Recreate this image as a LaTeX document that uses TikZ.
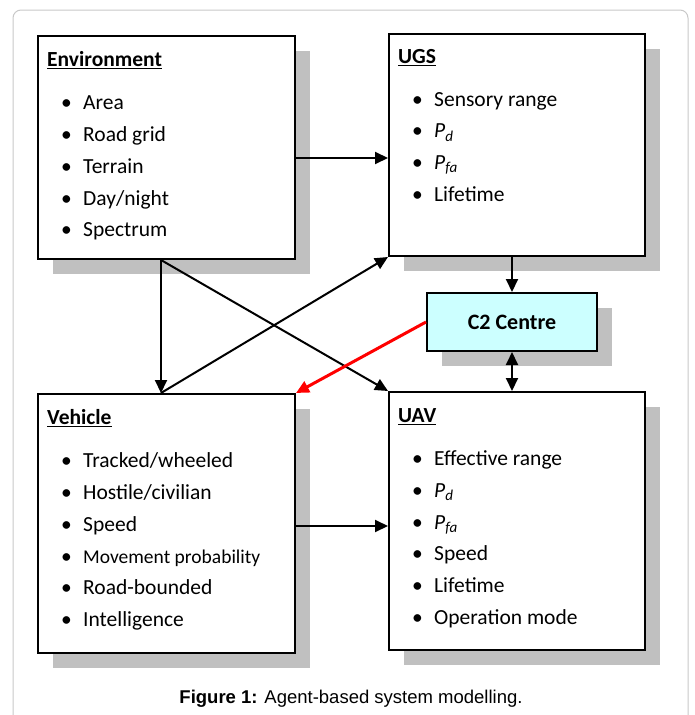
\documentclass[tikz,border=0pt]{standalone}
\usepackage{fontspec}
\setmainfont{Carlito}
\newfontfamily\capfont{Liberation Sans}
\usetikzlibrary{arrows.meta,shadows}

\definecolor{shade}{RGB}{192,192,192}
\definecolor{framegray}{RGB}{200,200,200}
\definecolor{ctwo}{RGB}{204,255,255}

\newcommand{\itm}[1]{\hspace*{14pt}\makebox[22pt][l]{\textbullet}#1}
\newcommand{\prob}[1]{\textit{P\textsubscript{#1}}}

\begin{document}
\begin{tikzpicture}[x=1pt, y=-1pt,
            agent/.style={draw, line width=2pt, fill=white, inner sep=0pt, anchor=north west,
                drop shadow={shadow xshift=15pt, shadow yshift=-15pt, fill=shade, opacity=1}},
            list/.style={anchor=north west, inner sep=0pt, align=left,
                font=\fontsize{21.5}{31.7}\selectfont},
            arr/.style={-{Triangle[length=13pt,width=12pt]}, line width=2pt},
            redarr/.style={-{Triangle[length=13pt,width=12pt]}, line width=3pt, red}]
            \useasboundingbox (0,0) rectangle (694,715);
            \draw[framegray, line width=1pt, rounded corners=8pt] (13,715) -- (13,10) -- (688,10) -- (688,715);

            \node[agent, minimum width=257pt, minimum height=223pt] (env) at (37,35) {};
            \node[agent, minimum width=256pt, minimum height=222pt] (ugs) at (388,33) {};
            \node[agent, fill=ctwo, minimum width=170pt, minimum height=58pt,
                font=\fontsize{22}{24}\selectfont\bfseries] (c2) at (426,292) {C2 Centre};
            \node[agent, minimum width=257pt, minimum height=259pt] (veh) at (37,393) {};
            \node[agent, minimum width=256pt, minimum height=258pt] (uav) at (388,391) {};

            \node[list] (envtxt) at ([shift={(10,16)}]env.north west) {\underline{\textbf{Environment}}\\[12pt]
                \itm{Area}\\ \itm{Road grid}\\ \itm{Terrain}\\ \itm{Day/night}\\ \itm{Spectrum}};
            \node[list] (ugstxt) at ([shift={(10,16)}]ugs.north west) {\underline{\textbf{UGS}}\\[11pt]
                \itm{Sensory range}\\ \itm{\prob{d}}\\ \itm{\prob{fa}}\\ \itm{Lifetime}};
            \node[list] (vehtxt) at ([shift={(10,16)}]veh.north west) {\underline{\textbf{Vehicle}}\\[12pt]
                \itm{Tracked/wheeled}\\ \itm{Hostile/civilian}\\ \itm{Speed}\\
                \itm{{\fontsize{19.5}{20}\selectfont Movement probability}}\\ \itm{Road-bounded}\\ \itm{Intelligence}};
            \node[list] (uavtxt) at ([shift={(10,17)}]uav.north west) {\underline{\textbf{UAV}}\\[12pt]
                \itm{Effective range}\\ \itm{\prob{d}}\\ \itm{\prob{fa}}\\ \itm{Speed}\\ \itm{Lifetime}\\ \itm{Operation mode}};

            \coordinate (envout) at ([xshift=-5.5pt]env.south);
            \coordinate (vehin) at ([xshift=-5.5pt]veh.north);
            \draw[arr] ([yshift=-10.5pt]env.east) -- ([yshift=-10.5pt]env.east -| ugs.west);
            \draw[arr] (envout) -- (vehin);
            \draw[arr] (envout) -- (uav.north west);
            \draw[arr] (vehin) -- (ugs.south west);
            \draw[arr] ([yshift=-2.5pt]veh.east) -- ([yshift=-2.5pt]veh.east -| uav.west);
            \draw[arr] (c2.north |- ugs.south) -- (c2.north);
            \draw[arr, {Triangle[length=13pt,width=12pt]}-{Triangle[length=13pt,width=12pt]}] (c2.south) -- (c2.south |- uav.north);
            \draw[redarr] (c2.west) -- (veh.north east);

            \node[anchor=base, font=\capfont\fontsize{18.5}{20}\selectfont] (cap) at (351,703)
                {\textbf{Figure 1:} Agent-based system modelling.};
        \end{tikzpicture}
\end{document}
